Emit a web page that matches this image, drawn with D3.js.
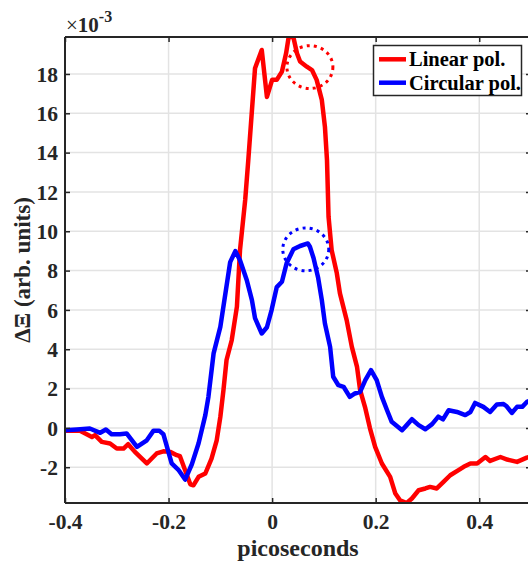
<!DOCTYPE html>
<html>
<head>
<meta charset="utf-8">
<script src="https://cdn.jsdelivr.net/npm/d3@7"></script>
<style>
  html, body { margin: 0; padding: 0; background: #fff; }
  svg { display: block; font-family: "Liberation Serif", "Times New Roman", serif; }
</style>
</head>
<body>
<svg id="chart" width="528" height="562"></svg>
<script>
// Time axis (ps) and signal for linear polarisation
const linearTime = [-0.400,-0.371,-0.348,-0.342,-0.329,-0.313,-0.300,-0.287,-0.278,-0.265,-0.242,-0.223,-0.210,-0.197,-0.184,-0.178,-0.168,-0.158,-0.152,-0.142,-0.129,-0.117,-0.107,-0.100,-0.094,-0.088,-0.078,-0.068,-0.062,-0.052,-0.046,-0.033,-0.020,-0.010,0.000,0.009,0.019,0.027,0.032,0.041,0.048,0.054,0.067,0.077,0.086,0.096,0.102,0.106,0.109,0.115,0.125,0.131,0.144,0.154,0.164,0.170,0.180,0.189,0.199,0.212,0.228,0.238,0.247,0.260,0.270,0.283,0.296,0.305,0.318,0.331,0.344,0.360,0.370,0.383,0.396,0.412,0.421,0.441,0.454,0.473,0.492,0.500];
const linearValues = [-0.15,-0.15,-0.46,-0.37,-0.71,-0.79,-1.05,-1.05,-0.83,-1.22,-1.81,-1.30,-1.19,-1.22,-1.39,-1.44,-2.15,-2.87,-2.92,-2.49,-2.32,-1.56,-0.63,0.56,1.92,3.45,4.46,6.16,9.04,11.59,13.62,18.29,19.22,16.83,17.70,17.70,18.12,19.05,19.88,19.88,19.05,18.63,18.37,18.20,17.70,16.68,15.32,13.62,10.74,9.04,7.86,6.84,5.48,4.12,3.10,1.92,1.00,-0.02,-0.97,-1.81,-2.49,-3.34,-3.68,-3.82,-3.59,-3.17,-3.08,-3.00,-3.08,-2.75,-2.41,-2.15,-1.98,-1.81,-1.81,-1.48,-1.68,-1.48,-1.61,-1.73,-1.51,-1.45];

// Time axis (ps) and signal for circular polarisation
const circularTime = [-0.400,-0.377,-0.352,-0.332,-0.321,-0.310,-0.294,-0.281,-0.261,-0.242,-0.229,-0.218,-0.210,-0.194,-0.181,-0.168,-0.155,-0.142,-0.129,-0.123,-0.113,-0.100,-0.081,-0.071,-0.062,-0.049,-0.039,-0.033,-0.020,-0.010,-0.001,0.009,0.019,0.028,0.041,0.054,0.069,0.073,0.080,0.089,0.096,0.102,0.112,0.118,0.128,0.138,0.150,0.160,0.170,0.180,0.191,0.202,0.212,0.222,0.231,0.251,0.260,0.270,0.283,0.296,0.309,0.321,0.330,0.341,0.357,0.373,0.383,0.392,0.408,0.421,0.434,0.447,0.453,0.463,0.473,0.483,0.492,0.500];
const circularValues = [-0.12,-0.08,-0.03,-0.25,-0.08,-0.32,-0.32,-0.28,-0.97,-0.63,-0.14,-0.14,-0.32,-1.80,-2.13,-2.63,-1.85,-0.78,0.65,1.58,3.79,5.14,8.43,8.99,8.53,7.52,6.50,5.58,4.80,5.12,5.99,7.16,7.43,8.37,9.08,9.25,9.38,9.21,8.64,7.62,6.50,5.31,4.12,2.60,2.17,2.09,1.58,1.75,1.83,2.43,2.94,2.43,1.58,0.90,0.31,-0.12,0.14,0.44,0.14,-0.07,0.19,0.57,0.43,0.90,0.81,0.65,0.81,1.27,1.07,0.81,1.19,1.21,1.10,0.76,1.07,1.07,1.32,1.40];

const seriesNames = ["Linear pol.", "Circular pol."];
const seriesColors = ["#ff0000", "#0000ff"];

// Highlighted regions: centre (ps, value) and radii in data units
const ringCenterX = [0.073, 0.065];
const ringCenterY = [18.35, 9.08];
const ringRadiusX = [0.0444, 0.0444];
const ringRadiusY = [1.09, 1.09];

const xTicks = [-0.4, -0.2, 0, 0.2, 0.4];
const yTicks = [-2, 0, 2, 4, 6, 8, 10, 12, 14, 16, 18];

const xDomain = [-0.4, 0.5];
const yDomain = [-3.82, 19.88];

const svg = d3.select("#chart");
const plot = { left: 65, right: 531, top: 37, bottom: 503 };
const axisColor = "#262626";
const tickFont = 21.5;

const x = d3.scaleLinear().domain(xDomain).range([plot.left, plot.right]);
const y = d3.scaleLinear().domain(yDomain).range([plot.bottom, plot.top]);

const fmt = v => String(+v.toFixed(1)).replace("\u2212", "-");

// Grid
const grid = svg.append("g").attr("stroke", "#e3e3e3").attr("stroke-width", 1.5);
grid.selectAll("line.gx").data(xTicks).join("line")
  .attr("x1", d => x(d)).attr("x2", d => x(d))
  .attr("y1", plot.top).attr("y2", plot.bottom);
grid.selectAll("line.gy").data(yTicks).join("line")
  .attr("x1", plot.left).attr("x2", plot.right)
  .attr("y1", d => y(d)).attr("y2", d => y(d));

// Clip for the data lines
svg.append("defs").append("clipPath").attr("id", "plotClip")
  .append("rect")
  .attr("x", plot.left).attr("y", plot.top)
  .attr("width", plot.right - plot.left).attr("height", plot.bottom - plot.top);

const lineGen = d3.line().x(d => x(d[0])).y(d => y(d[1]));

const series = [
  d3.zip(linearTime, linearValues),
  d3.zip(circularTime, circularValues)
];

const lines = svg.append("g").attr("clip-path", "url(#plotClip)");
lines.selectAll("path").data(series).join("path")
  .attr("d", lineGen)
  .attr("fill", "none")
  .attr("stroke", (d, i) => seriesColors[i])
  .attr("stroke-width", 4.5)
  .attr("stroke-linejoin", "round");

// Dotted rings
svg.append("g").selectAll("ellipse").data(ringCenterX).join("ellipse")
  .attr("cx", (d, i) => x(ringCenterX[i]))
  .attr("cy", (d, i) => y(ringCenterY[i]))
  .attr("rx", (d, i) => x(ringCenterX[i] + ringRadiusX[i]) - x(ringCenterX[i]))
  .attr("ry", (d, i) => y(ringCenterY[i] - ringRadiusY[i]) - y(ringCenterY[i]))
  .attr("fill", "none")
  .attr("stroke", (d, i) => seriesColors[i])
  .attr("stroke-width", 3)
  .attr("stroke-dasharray", "3 4.2");

// Axes (box with inward ticks)
const tickLen = 5;
const xAxisBottom = d3.axisBottom(x).tickValues(xTicks).tickSize(-tickLen).tickFormat(fmt).tickPadding(11);
const xAxisTop = d3.axisTop(x).tickValues(xTicks).tickSize(-tickLen).tickFormat("");
const yAxisLeft = d3.axisLeft(y).tickValues(yTicks).tickSize(-tickLen).tickFormat(d => String(d)).tickPadding(7);
const yAxisRight = d3.axisRight(y).tickValues(yTicks).tickSize(-tickLen).tickFormat("");

function styleAxis(g) {
  g.select(".domain").attr("stroke", axisColor).attr("stroke-width", 2);
  g.selectAll(".tick line").attr("stroke", axisColor).attr("stroke-width", 1.5);
  g.selectAll(".tick text")
    .attr("fill", axisColor)
    .attr("font-family", "'Liberation Serif', 'Times New Roman', serif")
    .attr("font-weight", "bold")
    .attr("font-size", tickFont);
}

svg.append("g").attr("transform", `translate(0,${plot.bottom})`).call(xAxisBottom).call(styleAxis)
  .call(g => g.select(".domain").attr("d", `M${plot.left},0H${plot.right}`));
svg.append("g").attr("transform", `translate(0,${plot.top})`).call(xAxisTop).call(styleAxis)
  .call(g => g.select(".domain").attr("d", `M${plot.left},0H${plot.right}`));
svg.append("g").attr("transform", `translate(${plot.left},0)`).call(yAxisLeft).call(styleAxis)
  .call(g => g.select(".domain").attr("d", `M0,${plot.top}V${plot.bottom}`))
  .call(g => g.selectAll(".tick text").attr("dy", "0.34em"));
svg.append("g").attr("transform", `translate(${plot.right},0)`).call(yAxisRight).call(styleAxis)
  .call(g => g.select(".domain").attr("d", `M0,${plot.top}V${plot.bottom}`));

// Axis titles
svg.append("text")
  .attr("x", (plot.left + plot.right) / 2).attr("y", 556)
  .attr("text-anchor", "middle")
  .attr("font-weight", "bold").attr("font-size", 24).attr("fill", axisColor)
  .text("picoseconds");

svg.append("text")
  .attr("transform", `translate(30,${(plot.top + plot.bottom) / 2}) rotate(-90)`)
  .attr("text-anchor", "middle")
  .attr("font-weight", "bold").attr("font-size", 23).attr("fill", axisColor)
  .text("\u0394\u039E (arb. units)");

// Exponent marker
const expo = svg.append("text").attr("x", 66).attr("y", 32).attr("fill", axisColor);
expo.append("tspan").attr("font-size", 21).text("\u00D7");
expo.append("tspan").attr("font-size", 21).attr("font-weight", "bold").text("10");
expo.append("tspan").attr("font-size", 16).attr("font-weight", "bold").attr("dy", -10).text("-3");

// Legend
const legend = svg.append("g");
legend.append("rect")
  .attr("x", 373.5).attr("y", 45.5).attr("width", 148).attr("height", 50)
  .attr("fill", "#fff").attr("stroke", axisColor).attr("stroke-width", 1.5);
const entryY = [59.3, 82.7];
const entries = legend.selectAll("g.entry").data(seriesNames).join("g");
entries.append("line")
  .attr("x1", 379).attr("x2", 406)
  .attr("y1", (d, i) => entryY[i]).attr("y2", (d, i) => entryY[i])
  .attr("stroke", (d, i) => seriesColors[i]).attr("stroke-width", 4.5);
entries.append("text")
  .attr("x", 409).attr("y", (d, i) => entryY[i] + 7)
  .attr("font-weight", "bold").attr("font-size", 20.5).attr("fill", "#000")
  .text(d => d);
</script>
</body>
</html>
